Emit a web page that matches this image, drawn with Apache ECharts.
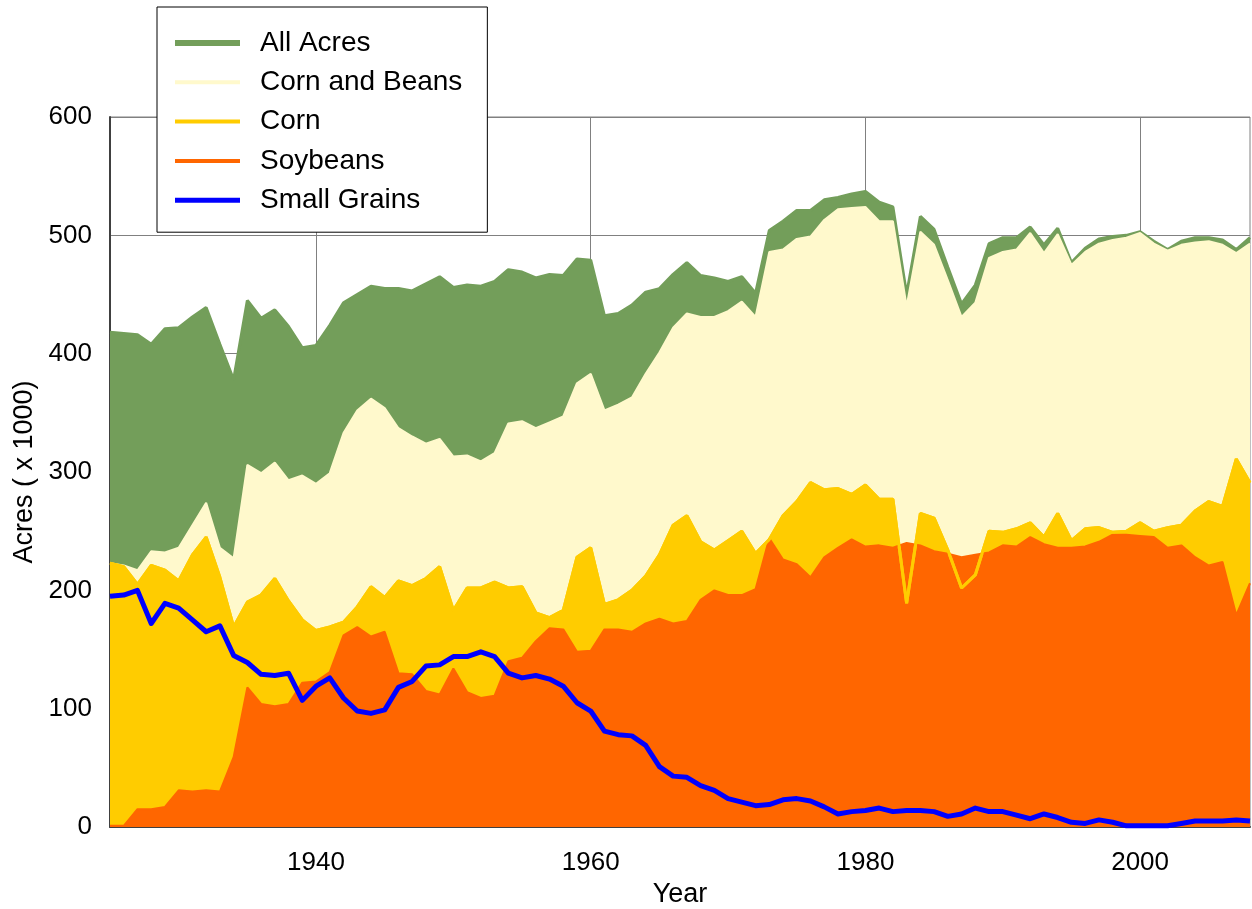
<!DOCTYPE html>
<html>
<head>
<meta charset="utf-8">
<script src="https://cdn.jsdelivr.net/npm/echarts@6/dist/echarts.min.js"></script>
<style>
  html, body { margin: 0; padding: 0; background: #fff; }
  #main { width: 1252px; height: 909px; }
</style>
</head>
<body>
<div id="main"></div>
<script>
// acres (x 1000), one value per year starting at firstYear
var firstYear = 1925;
var yearTicks = [1940, 1960, 1980, 2000];

var allAcres = [418, 417, 416, 408, 421, 422, 431, 439, 408, 378,
  445, 430, 437, 423, 405, 407, 424, 443, 450, 457,
  455, 455, 453, 459, 465, 456, 458, 457, 461, 471,
  469, 464, 467, 466, 480, 479, 432, 434, 441, 452,
  455, 467, 477, 466, 464, 461, 465, 451, 504, 512,
  521, 521, 530, 532, 535, 537, 528, 524, 450, 516,
  505, 473, 442, 458, 493, 498, 498, 507, 492, 506,
  477, 489, 497, 499, 500, 503, 495, 488, 495, 498,
  498, 496, 488, 498];

var cornBeans = [223, 221, 217, 233, 232, 236, 255, 274, 236, 227,
  306, 299, 308, 293, 297, 290, 299, 333, 352, 362,
  354, 337, 330, 324, 328, 313, 314, 309, 316, 341,
  343, 337, 342, 347, 375, 383, 352, 357, 363, 383,
  401, 422, 434, 431, 431, 436, 444, 431, 486, 488,
  497, 499, 513, 522, 523, 524, 512, 512, 440, 503,
  492, 462, 431, 443, 481, 486, 488, 502, 485, 501,
  475, 486, 493, 496, 498, 502, 493, 487, 492, 494,
  495, 492, 485, 493];

var corn = [223, 220, 205, 221, 217, 208, 230, 245, 211, 169,
  190, 196, 210, 191, 175, 166, 169, 173, 186, 203,
  194, 208, 204, 210, 220, 183, 202, 202, 207, 202,
  203, 181, 177, 183, 228, 236, 188, 192, 200, 212,
  230, 255, 263, 241, 234, 242, 250, 231, 243, 263,
  275, 291, 285, 286, 281, 289, 277, 277, 189, 265,
  261, 234, 202, 213, 250, 249, 252, 257, 245, 265,
  242, 252, 253, 249, 250, 257, 250, 253, 255, 267,
  275, 271, 311, 291];

var soybeans = [1, 1, 15, 15, 17, 31, 30, 31, 30, 59,
  118, 104, 102, 104, 122, 123, 131, 162, 169, 161,
  165, 130, 129, 115, 112, 134, 114, 109, 111, 140,
  143, 157, 168, 167, 148, 149, 167, 167, 165, 172,
  176, 172, 174, 192, 200, 196, 196, 201, 244, 226,
  222, 211, 228, 236, 243, 237, 238, 236, 240, 238,
  233, 231, 228, 230, 232, 238, 237, 245, 239, 236,
  236, 237, 241, 247, 247, 246, 245, 236, 238, 228,
  221, 224, 179, 206];

var smallGrains = [195, 196, 200, 172, 189, 185, 175, 165, 170, 145,
  139, 129, 128, 130, 107, 119, 126, 109, 98, 96,
  99, 118, 123, 136, 137, 144, 144, 148, 144, 130,
  126, 128, 125, 119, 105, 98, 81, 78, 77, 69,
  51, 43, 42, 35, 31, 24, 21, 18, 19, 23,
  24, 22, 17, 11, 13, 14, 16, 13, 14, 14,
  13, 9, 11, 16, 13, 13, 10, 7, 11, 8,
  4, 3, 6, 4, 1, 1, 1, 1, 3, 5,
  5, 5, 6, 5];

function withYears(values) {
  return values.map(function (v, i) { return [firstYear + i, v]; });
}

// legend sample: a plain bar of the given thickness, no symbol
function lineIcon(h) {
  return 'path://M0,0H65V' + h + 'H0Z';
}

var font = '"Liberation Sans", Arial, sans-serif';
var chartDom = document.getElementById('main');
var myChart = echarts.init(chartDom, null, { renderer: 'canvas' });
var option;

function areaSeries(name, values, color, lineWidth) {
  return {
    name: name,
    type: 'line',
    symbol: 'none',
    data: withYears(values),
    lineStyle: { color: color, width: lineWidth },
    itemStyle: { color: color },
    areaStyle: { color: color, opacity: 1 },
    emphasis: { disabled: true }
  };
}

option = {
  animation: false,
  backgroundColor: '#fff',
  grid: {
    left: 110, right: 2, top: 117, bottom: 82,
    outerBoundsMode: 'none',
    show: true, borderColor: '#808080', borderWidth: 1
  },
  legend: {
    orient: 'vertical',
    left: 157, top: 7,
    itemWidth: 65, itemHeight: 24, itemGap: 11.3,
    padding: [22, 25, 18, 18],
    backgroundColor: '#fff',
    borderColor: '#000', borderWidth: 1,
    selectedMode: false,
    textStyle: { fontFamily: font, fontSize: 28, color: '#000', padding: [0, 0, 0, 15] },
    data: [
      { name: 'All Acres', icon: lineIcon(6) },
      { name: 'Corn and Beans', icon: lineIcon(4) },
      { name: 'Corn', icon: lineIcon(4) },
      { name: 'Soybeans', icon: lineIcon(4) },
      { name: 'Small Grains', icon: lineIcon(5) }
    ]
  },
  xAxis: {
    type: 'value',
    min: 1925, max: 2008,
    name: 'Year',
    nameLocation: 'middle',
    nameGap: 48,
    nameTextStyle: { fontFamily: font, fontSize: 27, color: '#000' },
    axisLine: { show: true, onZero: false, lineStyle: { color: '#404040', width: 2 } },
    axisTick: { show: false, customValues: yearTicks },
    axisLabel: {
      customValues: yearTicks,
      formatter: function (v) { return String(v); },
      fontFamily: font, fontSize: 26, color: '#000', margin: 23
    },
    splitLine: { show: true, lineStyle: { color: '#808080', width: 1 } }
  },
  yAxis: {
    type: 'value',
    min: 0, max: 600, interval: 100,
    name: 'Acres ( x 1000)',
    nameLocation: 'middle',
    nameGap: 72,
    nameTextStyle: { fontFamily: font, fontSize: 27, color: '#000' },
    axisLine: { show: true, lineStyle: { color: '#404040', width: 2 } },
    axisTick: { show: false },
    axisLabel: { fontFamily: font, fontSize: 26, color: '#000', margin: 18 },
    splitLine: { show: true, lineStyle: { color: '#808080', width: 1 } }
  },
  series: [
    areaSeries('All Acres', allAcres, '#739E5A', 3),
    areaSeries('Corn and Beans', cornBeans, '#FFF9CC', 2),
    areaSeries('Corn', corn, '#FFCC00', 3),
    areaSeries('Soybeans', soybeans, '#FF6600', 2),
    {
      // corn line stays visible where soybeans pass above corn
      name: 'Corn',
      type: 'line',
      symbol: 'none',
      data: withYears(corn),
      lineStyle: { color: '#FFCC00', width: 3 },
      itemStyle: { color: '#FFCC00' },
      emphasis: { disabled: true }
    },
    {
      name: 'Small Grains',
      type: 'line',
      symbol: 'none',
      data: withYears(smallGrains),
      lineStyle: { color: '#0000FF', width: 5, join: 'round' },
      itemStyle: { color: '#0000FF' },
      emphasis: { disabled: true }
    }
  ]
};

option && myChart.setOption(option);
</script>
</body>
</html>
